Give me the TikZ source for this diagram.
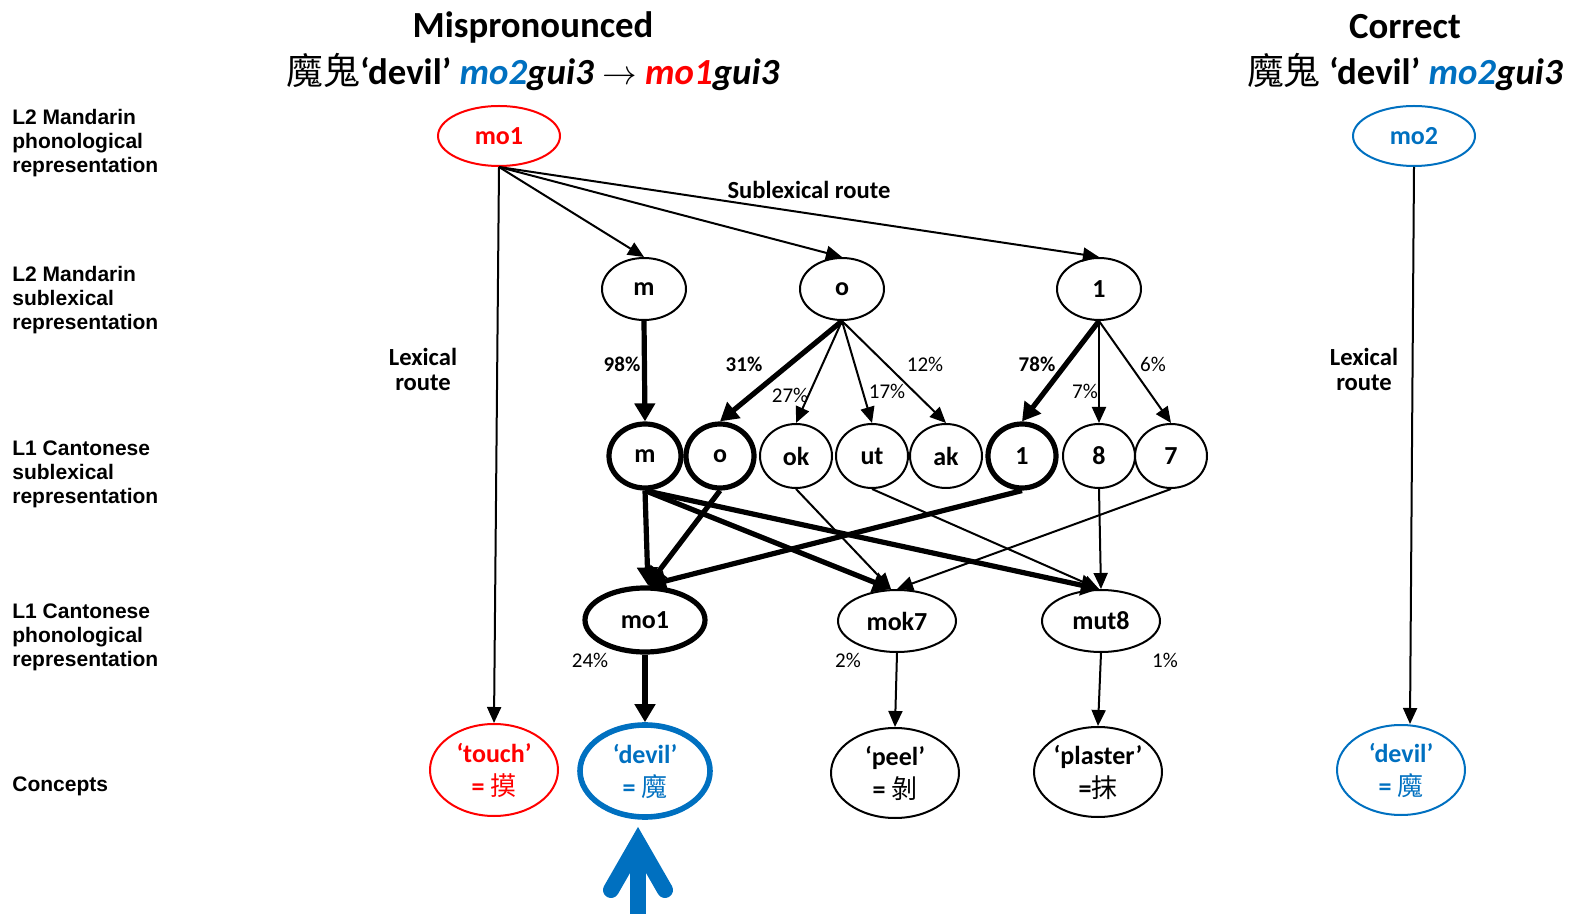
\documentclass[tikz,border=0pt]{standalone}
\usepackage{fontspec}
\setmainfont{Carlito}
\newfontfamily\labelfont{Liberation Sans}
\newfontfamily\cjk{Noto Sans CJK TC}
\usetikzlibrary{shapes.geometric,arrows.meta}
\definecolor{ored}{RGB}{255,0,0}
\definecolor{oblue}{RGB}{0,112,192}

\begin{document}
\begin{tikzpicture}[x=0.5pt,y=-0.5pt,
  lvl/.style={anchor=west, align=left, inner sep=0pt,
    font=\labelfont\bfseries\fontsize{10.5}{12}\selectfont},
  ttl/.style={inner sep=0pt, font=\bfseries\fontsize{18.4}{22}\selectfont},
  nd/.style={ellipse, draw, line width=1pt, inner sep=0pt,
    font=\bfseries\fontsize{13}{15}\selectfont},
  heavy/.style={line width=2.6pt},
  concept/.style={nd, align=center, minimum width=64pt, minimum height=46pt,
    font=\bfseries\fontsize{13}{16.5}\selectfont},
  pct/.style={inner sep=0pt, font=\fontsize{10.5}{12}\selectfont},
  pctb/.style={inner sep=0pt, font=\bfseries\fontsize{10.5}{12}\selectfont},
  route/.style={inner sep=0pt, align=center, font=\bfseries\fontsize{12.3}{12.5}\selectfont},
  link/.style={line width=1pt, -{Triangle[length=8pt,width=7pt]}},
  strong/.style={line width=2.6pt, -{Triangle[length=9pt,width=10pt]}},
  cue/.style={draw=oblue, line width=8pt}
]
\useasboundingbox (0,0) rectangle (1570,914);

% headings
\node[ttl] (head1) at (533,27) {Mispronounced};
\node[ttl] (head2) at (533,72) {{\mdseries\cjk 魔鬼}‘devil’ \textit{\textcolor{oblue}{mo2}gui3} $\rightarrow$ \textit{\textcolor{ored}{mo1}gui3}};
\node[ttl] (head3) at (1405,27) {Correct};
\node[ttl] (head4) at (1405,72) {{\mdseries\cjk 魔鬼} ‘devil’ \textit{\textcolor{oblue}{mo2}gui3}};

% level labels
\node[lvl] (lv1) at (12,143) {L2 Mandarin\\phonological\\representation};
\node[lvl] (lv2) at (12,300) {L2 Mandarin\\sublexical\\representation};
\node[lvl] (lv3) at (12,474) {L1 Cantonese\\sublexical\\representation};
\node[lvl] (lv4) at (12,637) {L1 Cantonese\\phonological\\representation};
\node[lvl] (lv5) at (12,786) {Concepts};

% L2 Mandarin phonology
\node[nd, draw=ored, text=ored, minimum width=61pt, minimum height=30pt] (mtop) at (499,136) {mo1};
\node[nd, draw=oblue, text=oblue, minimum width=61pt, minimum height=30pt] (ctop) at (1414,136) {mo2};

% L2 Mandarin sublexical units
\node[nd, minimum width=42pt, minimum height=31pt] (sm) at (644,289) {m};
\node[nd, minimum width=42pt, minimum height=31pt] (so) at (842,289) {o};
\node[nd, minimum width=42pt, minimum height=31pt] (s1) at (1099,289) {1};

% L1 Cantonese sublexical units
\node[nd, heavy, minimum width=36pt, minimum height=32pt] (cm) at (645,456) {m};
\node[nd, heavy, minimum width=34pt, minimum height=32pt] (co) at (720,456) {o};
\node[nd, minimum width=36pt, minimum height=32pt] (cok) at (796,456) {ok};
\node[nd, minimum width=36pt, minimum height=32pt] (cut) at (872,456) {ut};
\node[nd, minimum width=36pt, minimum height=32pt] (cak) at (946,456) {ak};
\node[nd, heavy, minimum width=34pt, minimum height=32pt] (c1) at (1022,456) {1};
\node[nd, minimum width=36pt, minimum height=32pt] (c8) at (1099,456) {8};
\node[nd, minimum width=36pt, minimum height=32pt] (c7) at (1171,456) {7};

% L1 Cantonese phonology
\node[nd, heavy, minimum width=60pt, minimum height=32pt] (pmo1) at (645,620) {mo1};
\node[nd, minimum width=59pt, minimum height=31pt] (pmok7) at (897,621) {mok7};
\node[nd, minimum width=59pt, minimum height=31pt] (pmut8) at (1101,621) {mut8};

% concepts
\node[concept, draw=ored, text=ored] (ktouch) at (494,770) {‘touch’\\= {\mdseries\cjk 摸}};
\node[concept, draw=oblue, text=oblue, line width=2.8pt, minimum width=65pt] (kdevil) at (645,771) {‘devil’\\= {\mdseries\cjk 魔}};
\node[concept, minimum height=45pt] (kpeel) at (895,773) {‘peel’\\= {\mdseries\cjk 剝}};
\node[concept, minimum height=45pt] (kplaster) at (1098,772) {‘plaster’\\={\mdseries\cjk 抹}};
\node[concept, draw=oblue, text=oblue, minimum height=45pt] (kdevil2) at (1401,770) {‘devil’\\= {\mdseries\cjk 魔}};

% route labels
\node[route] (subroute) at (809,190) {Sublexical route};
\node[route] (lexroute1) at (423,369) {Lexical\\route};
\node[route] (lexroute2) at (1364,369) {Lexical\\route};

% sublexical and lexical routes from the Mandarin syllables
\draw[link] (mtop.south) -- (sm.north);
\draw[link] (mtop.south) -- (so.north);
\draw[link] (mtop.south) -- (s1.north);
\draw[link] (mtop.south) -- (ktouch.north);
\draw[link] (ctop.south) -- ([xshift=4.5pt]kdevil2.north);

% Mandarin units to Cantonese units
\draw[strong] (sm.south) -- (cm.north);
\draw[strong] (so.south) -- (co.north);
\draw[link] (so.south) -- (cok.north);
\draw[link] (so.south) -- (cut.north);
\draw[link] (so.south) -- (cak.north);
\draw[strong] (s1.south) -- (c1.north);
\draw[link] (s1.south) -- (c8.north);
\draw[link] (s1.south) -- (c7.north);

% Cantonese units to Cantonese syllables
\draw[strong] (cm.south) -- ([xshift=1.5pt]pmo1.north);
\draw[strong] (cm.south) -- ([xshift=-3pt]pmok7.north);
\draw[strong] (cm.south) -- ([xshift=-1pt]pmut8.north);
\draw[strong] (co.south) -- ([xshift=1.5pt]pmo1.north);
\draw[strong] (c1.south) -- ([xshift=1.5pt]pmo1.north);
\draw[link] (cok.south) -- ([xshift=-3pt]pmok7.north);
\draw[link] (cut.south) -- ([xshift=-1pt]pmut8.north);
\draw[link] (c8.south) -- (pmut8.north);
\draw[link] (c7.south) -- (pmok7.north);

% Cantonese syllables to concepts
\draw[strong] (pmo1.south) -- (kdevil.north);
\draw[link] (pmok7.south) -- (kpeel.north);
\draw[link] (pmut8.south) -- (kplaster.north);

% percentages
\node[pctb] (p98) at (622,364) {98\%};
\node[pctb] (p31) at (744,364) {31\%};
\node[pct] (p27) at (790,395) {27\%};
\node[pct] (p17) at (887,391) {17\%};
\node[pct] (p12) at (925,364) {12\%};
\node[pctb] (p78) at (1037,364) {78\%};
\node[pct] (p7) at (1085,391) {7\%};
\node[pct] (p6) at (1153,364) {6\%};
\node[pct] (p24) at (590,660) {24\%};
\node[pct] (p2) at (848,660) {2\%};
\node[pct] (p1) at (1165,660) {1\%};

% blue cue arrow under the target concept
\coordinate (cuebase) at (638,914);
\coordinate (cuetip) at (638,843);
\draw[cue] (cuebase) -- (cuetip);
\draw[cue, line cap=round, line join=miter] ([shift={(-27,47)}]cuetip) -- (cuetip) -- ([shift={(27,47)}]cuetip);
\end{tikzpicture}
\end{document}
